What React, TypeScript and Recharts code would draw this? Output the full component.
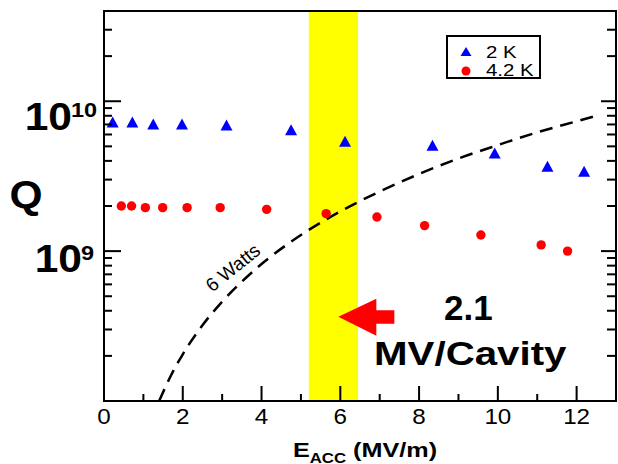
import React from 'react';
import {
  ComposedChart,
  Scatter,
  Line,
  XAxis,
  YAxis,
  ReferenceArea,
  ReferenceDot,
  Legend,
} from 'recharts';

// 2 K measurements
const eacc2K = [0.22, 0.72, 1.25, 1.98, 3.11, 4.75, 6.12, 8.34, 9.92, 11.26, 12.19];
const q2K = [7.2e9, 7.2e9, 7.0e9, 7.0e9, 6.9e9, 6.4e9, 5.36e9, 5.04e9, 4.48e9, 3.65e9, 3.38e9];

// 4.2 K measurements
const eacc42K = [0.44, 0.7, 1.05, 1.49, 2.11, 2.95, 4.13, 5.64, 6.93, 8.14, 9.57, 11.1, 11.77];
const q42K = [2.0e9, 2.0e9, 1.95e9, 1.95e9, 1.95e9, 1.95e9, 1.9e9, 1.78e9, 1.69e9, 1.48e9, 1.28e9, 1.1e9, 1.0e9];

// 6 W dissipation line
const wattsE = [1.4, 1.7, 2, 2.5, 3, 3.5, 4, 5, 6, 7, 8, 9, 10, 11, 12, 12.5];
const wattsQ = [1.0e8, 1.48e8, 2.05e8, 3.2e8, 4.6e8, 6.25e8, 8.2e8, 1.28e9, 1.84e9, 2.5e9, 3.27e9, 4.15e9, 5.1e9, 6.2e9, 7.35e9, 8.0e9];

// operating band (MV/m)
const bandE = [5.2, 6.45];

const xTicks = [0, 1, 2, 3, 4, 5, 6, 7, 8, 9, 10, 11, 12];
const yTicks = [
  2e8, 3e8, 4e8, 5e8, 6e8, 7e8, 8e8, 9e8,
  1e9, 2e9, 3e9, 4e9, 5e9, 6e9, 7e9, 8e9, 9e9,
  1e10, 2e10, 3e10,
];

const data2K = eacc2K.map((x, i) => ({ x, q: q2K[i] }));
const data42K = eacc42K.map((x, i) => ({ x, q: q42K[i] }));
const wattsData = wattsE.map((x, i) => ({ x, q: wattsQ[i] }));

const FONT = '"Liberation Sans", Arial, Helvetica, sans-serif';
const BLUE = '#0000ff';
const RED = '#ff0000';

// the source figure is stretched sideways, so text gets a horizontal scale
function Wide({ x, y, sx = 1, size, bold = false, anchor = 'middle', children }: any) {
  return (
    <g transform={`translate(${x} ${y}) scale(${sx} 1)`}>
      <text x={0} y={0} textAnchor={anchor} fontSize={size} fontWeight={bold ? 'bold' : 'normal'} fontFamily={FONT} fill="#000">
        {children}
      </text>
    </g>
  );
}

// ticks drawn as thin filled bars
function VBar({ x, y0, y1 }: any) {
  return <rect x={x - 1} y={Math.min(y0, y1)} width={2} height={Math.abs(y1 - y0)} fill="#000" />;
}
function HBar({ y, x0, x1 }: any) {
  return <rect x={Math.min(x0, x1)} y={y - 1} width={Math.abs(x1 - x0)} height={2} fill="#000" />;
}

function BottomTick({ x, y, payload }: any) {
  const major = payload.value % 2 === 0;
  return (
    <g>
      <VBar x={x} y0={y} y1={y - (major ? 15 : 7)} />
      {major && (
        <Wide x={x} y={y + 23} sx={1.1} size={22}>
          {payload.value}
        </Wide>
      )}
    </g>
  );
}

function TopTick({ x, y, payload }: any) {
  const major = payload.value % 2 === 0;
  return <VBar x={x} y0={y} y1={y + (major ? 14 : 7)} />;
}

function LeftTick({ x, y, payload }: any) {
  const v = payload.value;
  const major = v === 1e9 || v === 1e10;
  return (
    <g>
      <HBar y={y} x0={x} x1={x + (major ? 17 : 8)} />
      {v === 1e10 && (
        <g>
          <Wide x={x - 32} y={y + 29} sx={1.12} size={38} bold anchor="end">10</Wide>
          <Wide x={x - 33} y={y + 16} sx={1.12} size={21} bold anchor="start">10</Wide>
        </g>
      )}
      {v === 1e9 && (
        <g>
          <Wide x={x - 22} y={y + 21} sx={1.12} size={38} bold anchor="end">10</Wide>
          <Wide x={x - 23} y={y + 9} sx={1.12} size={21} bold anchor="start">9</Wide>
        </g>
      )}
    </g>
  );
}

function RightTick({ x, y, payload }: any) {
  const v = payload.value;
  const major = v === 1e9 || v === 1e10;
  return <HBar y={y} x0={x} x1={x - (major ? 15 : 9)} />;
}

// plot border, from the reference area's rectangle
function FrameShape({ x, y, width, height }: any) {
  return (
    <g>
      <rect x={x - 1} y={y - 1} width={width + 2} height={2} fill="#000" />
      <rect x={x - 1} y={y + height - 1} width={width + 2} height={2} fill="#000" />
      <rect x={x - 1} y={y - 1} width={2} height={height + 2} fill="#000" />
      <rect x={x + width - 1} y={y - 1} width={2} height={height + 2} fill="#000" />
    </g>
  );
}

function QLabel({ viewBox }: any) {
  const { x, y, height } = viewBox;
  return (
    <Wide x={x + 26} y={y + height / 2 + 2} sx={1.12} size={38} bold>
      Q
    </Wide>
  );
}

function XTitle({ viewBox }: any) {
  const { x, y, width } = viewBox;
  return (
    <g transform={`translate(${x + width / 2 + 5} ${y + 56}) scale(1.2 1)`}>
      <text x={0} y={0} textAnchor="middle" fontSize={21} fontWeight="bold" fontFamily={FONT} fill="#000">
        <tspan>E</tspan>
        <tspan fontSize={14} dy={6}>ACC</tspan>
        <tspan dy={-6}> (MV/m)</tspan>
      </text>
    </g>
  );
}

function Triangle({ cx, cy }: any) {
  return <polygon points={`${cx},${cy - 6} ${cx - 6},${cy + 5} ${cx + 6},${cy + 5}`} fill={BLUE} />;
}

function RedDot({ cx, cy }: any) {
  return <circle cx={cx} cy={cy} r={4.7} fill={RED} />;
}

function Arrow({ cx, cy }: any) {
  const pts = [
    [0, 0], [38, -18], [38, -6.5], [56, -6.5], [56, 7], [38, 7], [38, 19],
  ].map(([dx, dy]) => `${cx + dx},${cy + dy}`).join(' ');
  return <polygon points={pts} fill={RED} />;
}

function LegendBox() {
  return (
    <svg width={96} height={45}>
      <rect x={1} y={1} width={93} height={42} fill="#fff" stroke="#000" strokeWidth={2} />
      <polygon points="20,12 14.5,21 25.5,21" fill={BLUE} />
      <circle cx={20} cy={36} r={4.5} fill={RED} />
      <Wide x={40} y={23} sx={1.2} size={17} anchor="start">2 K</Wide>
      <Wide x={40} y={41} sx={1.2} size={17} anchor="start">4.2 K</Wide>
    </svg>
  );
}

export default function App() {
  const frame = { stroke: '#000', strokeWidth: 2 };
  return (
    <div style={{ position: 'absolute', left: 0, top: 0 }}>
      <ComposedChart width={618} height={464} margin={{ top: 10, right: 1, bottom: 0, left: 0 }}>
        <ReferenceArea x1={bandE[0]} x2={bandE[1]} fill="#ffff00" fillOpacity={1} stroke="none" />
        <ReferenceArea x1={0} x2={13} y1={1e8} y2={4e10} ifOverflow="visible" shape={FrameShape} />
        <XAxis
          type="number"
          dataKey="x"
          domain={[0, 13]}
          ticks={xTicks}
          interval={0}
          allowDataOverflow
          height={63}
          tickSize={0}
          tickMargin={0}
          tickLine={false}
          axisLine={frame}
          tick={BottomTick}
          label={{ content: XTitle }}
        />
        <XAxis
          xAxisId="top"
          orientation="top"
          type="number"
          domain={[0, 13]}
          ticks={xTicks}
          interval={0}
          allowDataOverflow
          height={1}
          tickSize={0}
          tickMargin={0}
          tickLine={false}
          axisLine={frame}
          tick={TopTick}
        />
        <YAxis
          type="number"
          dataKey="q"
          scale="log"
          domain={[1e8, 4e10]}
          ticks={yTicks}
          interval={0}
          allowDataOverflow
          width={104}
          tickSize={0}
          tickMargin={0}
          tickLine={false}
          axisLine={frame}
          tick={LeftTick}
          label={{ content: QLabel }}
        />
        <YAxis
          yAxisId="right"
          orientation="right"
          type="number"
          scale="log"
          domain={[1e8, 4e10]}
          ticks={yTicks}
          interval={0}
          allowDataOverflow
          width={1}
          tickSize={0}
          tickMargin={0}
          tickLine={false}
          axisLine={frame}
          tick={RightTick}
        />
        <Line
          data={wattsData}
          dataKey="q"
          type="monotone"
          stroke="#000"
          strokeWidth={2.5}
          strokeDasharray="13 8"
          dot={false}
          activeDot={false}
          isAnimationActive={false}
        />
        <Scatter name="2 K" data={data2K} shape={Triangle} isAnimationActive={false} />
        <Scatter name="4.2 K" data={data42K} shape={RedDot} isAnimationActive={false} />
        <ReferenceDot x={5.95} y={3.65e8} r={0} shape={Arrow} />
        <ReferenceDot
          x={9.25}
          y={3.47e8}
          r={0}
          shape={({ cx, cy }: any) => (
            <Wide x={cx} y={cy} size={35} bold>2.1</Wide>
          )}
        />
        <ReferenceDot
          x={9.3}
          y={1.74e8}
          r={0}
          shape={({ cx, cy }: any) => (
            <Wide x={cx} y={cy} sx={1.22} size={33} bold>MV/Cavity</Wide>
          )}
        />
        <ReferenceDot
          x={3.28}
          y={7.7e8}
          r={0}
          shape={({ cx, cy }: any) => (
            <g transform={`translate(${cx} ${cy}) rotate(-39)`}>
              <text x={0} y={6} textAnchor="middle" fontSize={19} fontFamily={FONT} fill="#000">
                6 Watts
              </text>
            </g>
          )}
        />
        <Legend
          layout="horizontal"
          verticalAlign="middle"
          align="center"
          content={LegendBox}
          wrapperStyle={{ position: 'absolute', left: 446, top: 35, width: 96, height: 45 }}
        />
      </ComposedChart>
    </div>
  );
}
